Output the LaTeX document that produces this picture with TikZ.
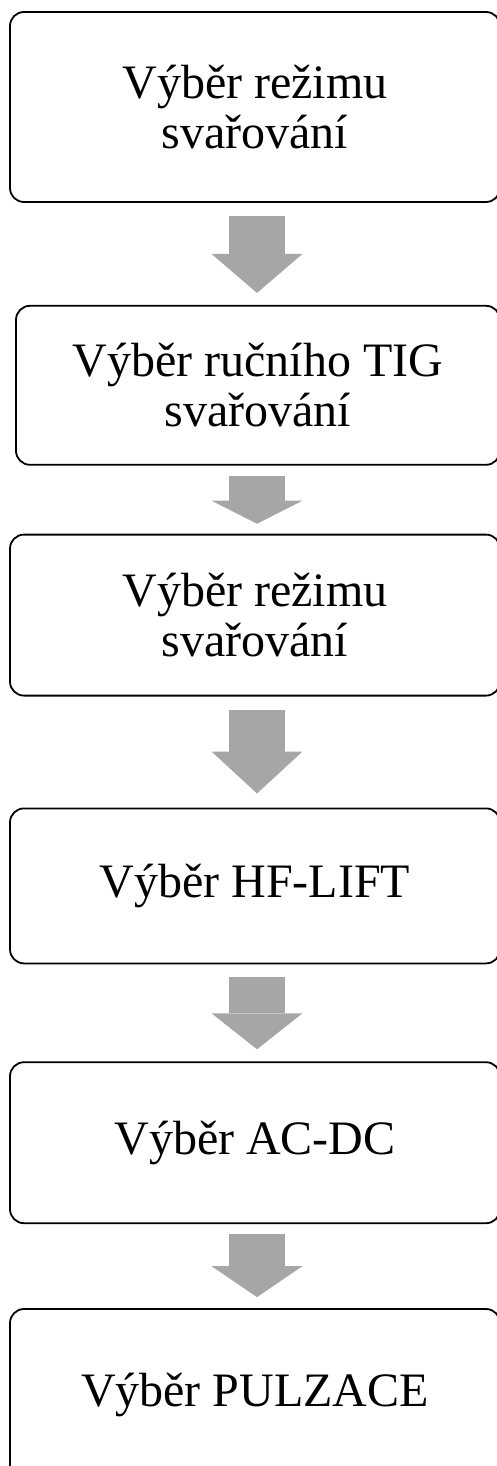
\documentclass[tikz,border=0pt]{standalone}
\usepackage{fontspec}
\setmainfont{Liberation Serif}
\usetikzlibrary{positioning,arrows.meta}
\definecolor{arw}{RGB}{166,166,166}

\begin{document}
\begin{tikzpicture}[x=1pt,y=-1pt,
  font=\fontsize{48}{50}\selectfont,
  stepbox/.style={draw,line width=1.8pt,rounded corners=14pt,minimum width=490pt,inner sep=0pt,align=center},
  flow/.style={arw,line width=56pt,-{Triangle[width=91pt,length=#1,line width=0pt]}}]
  \useasboundingbox (0,0) rectangle (497,1466);
  % the six steps, top to bottom
  \node[stepbox,minimum height=190pt] (s1) at (255,107) {Výběr režimu\\svařování};
  \node[stepbox,minimum height=159pt,minimum width=484pt,below=102pt of s1,xshift=3pt] (s2) {Výběr ručního TIG\\svařování};
  \node[stepbox,minimum height=161pt,below=68pt of s2,xshift=-3pt] (s3) {Výběr režimu\\svařování};
  \node[stepbox,minimum height=155pt,below=111pt of s3] (s4) {Výběr HF-LIFT};
  \node[stepbox,minimum height=161pt,below=97pt of s4] (s5) {Výběr AC-DC};
  \node[stepbox,minimum height=172pt,below=84pt of s5] (s6) {Výběr PULZACE};
  % grey block arrows between them
  \draw[flow=39pt,shorten <=13pt,shorten >=12pt] ([xshift=2pt]s1.south) -- ([xshift=-1pt]s2.north);
  \draw[flow=23pt,shorten <=10pt,shorten >=10pt] ([xshift=-1pt]s2.south) -- ([xshift=2pt]s3.north);
  \draw[flow=42pt,shorten <=13pt,shorten >=14pt] ([xshift=2pt]s3.south) -- ([xshift=2pt]s4.north);
  \draw[flow=36pt,shorten <=13pt,shorten >=12pt] ([xshift=2pt]s4.south) -- ([xshift=2pt]s5.north);
  \draw[flow=31pt,shorten <=10pt,shorten >=11pt] ([xshift=2pt]s5.south) -- ([xshift=2pt]s6.north);
\end{tikzpicture}
\end{document}
